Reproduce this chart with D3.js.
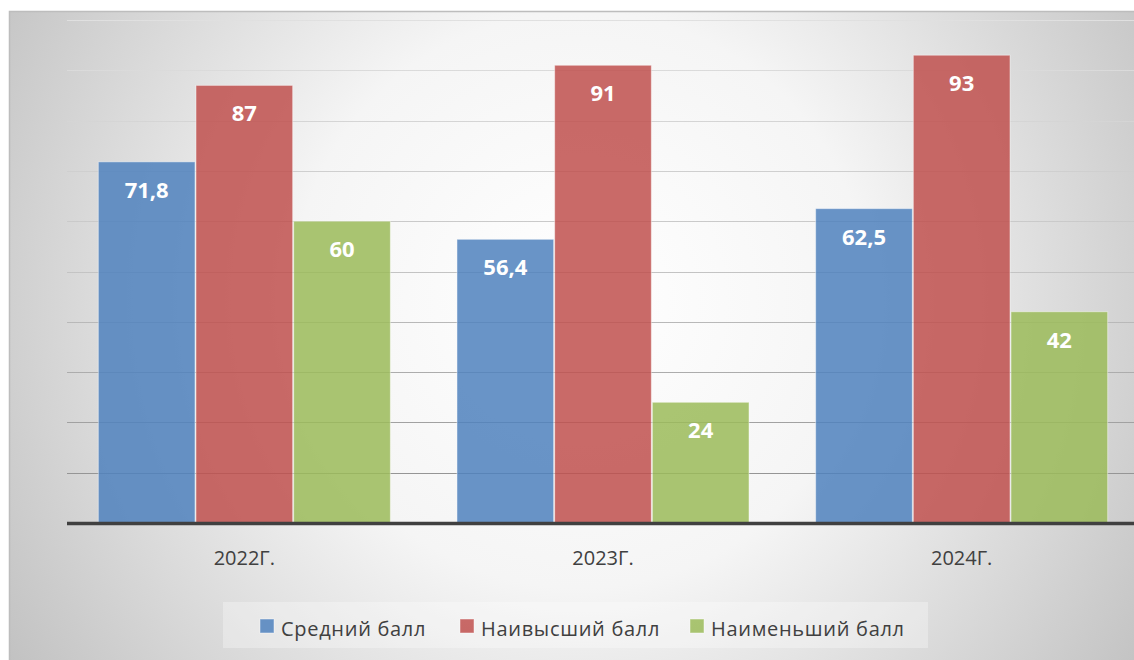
<!DOCTYPE html>
<html>
<head>
<meta charset="utf-8">
<script src="https://cdn.jsdelivr.net/npm/d3@7"></script>
<style>
  html, body { margin: 0; padding: 0; background: #ffffff; }
  svg { display: block; }
</style>
</head>
<body>
<svg id="chart" width="1134" height="660"></svg>
<script>
// ---- data ----
const categories = ["2022Г.", "2023Г.", "2024Г."];
const seriesNames = ["Средний балл", "Наивысший балл", "Наименьший балл"];
const seriesAvg = [71.8, 56.4, 62.5];
const seriesMax = [87, 91, 93];
const seriesMin = [60, 24, 42];
const yTicks = [0, 10, 20, 30, 40, 50, 60, 70, 80, 90, 100];
const colors = ["#4F81BD", "#C0504D", "#9BBB59"];

const seriesValues = [seriesAvg, seriesMax, seriesMin];
const fmt = v => String(v).replace(".", ",");

const svg = d3.select("#chart");
const defs = svg.append("defs");

// background gradient
const rg = defs.append("radialGradient")
  .attr("id", "bg").attr("gradientUnits", "userSpaceOnUse")
  .attr("cx", 580).attr("cy", 300).attr("r", 720);
rg.append("stop").attr("offset", 0).attr("stop-color", "#ffffff");
rg.append("stop").attr("offset", 0.4).attr("stop-color", "#f5f5f5");
rg.append("stop").attr("offset", 1).attr("stop-color", "#bcbcbc");

const lg = defs.append("linearGradient")
  .attr("id", "grid").attr("gradientUnits", "userSpaceOnUse")
  .attr("x1", 0).attr("y1", 20).attr("x2", 0).attr("y2", 523);
lg.append("stop").attr("offset", 0).attr("stop-color", "#e0e0e0");
lg.append("stop").attr("offset", 0.5).attr("stop-color", "#c4c4c4");
lg.append("stop").attr("offset", 1).attr("stop-color", "#8a8a8a");

svg.append("rect")
  .attr("x", 9.5).attr("y", 11.5).attr("width", 1135).attr("height", 660)
  .attr("fill", "url(#bg)").attr("stroke", "#bdbdbd").attr("stroke-width", 1.5);

// scales
const x = d3.scaleBand().domain(categories).range([65, 1141])
  .paddingInner(0.183).paddingOuter(0.0915);
const xs = d3.scaleBand().domain(seriesNames).range([0, x.bandwidth()]);
const y = d3.scaleLinear().domain([0, 100]).range([523, 20]);

// gridlines
svg.append("g").selectAll("line").data(yTicks.filter(t => t > 0)).join("line")
  .attr("x1", 67).attr("x2", 1143)
  .attr("y1", d => Math.round(y(d)) + 0.5).attr("y2", d => Math.round(y(d)) + 0.5)
  .attr("stroke", "url(#grid)").attr("stroke-width", 1.2);

// bars
const groups = svg.append("g").selectAll("g").data(categories).join("g")
  .attr("transform", d => `translate(${x(d)},0)`);

groups.each(function(cat, ci) {
  const g = d3.select(this);
  seriesNames.forEach((s, si) => {
    const v = seriesValues[si][ci];
    g.append("rect")
      .attr("x", xs(s) + 0.5).attr("y", y(v))
      .attr("width", xs.bandwidth() - 1).attr("height", y(0) - y(v))
      .attr("fill", colors[si]).attr("fill-opacity", 0.85)
      .attr("stroke", "rgba(255,255,255,0.45)").attr("stroke-width", 1);
    g.append("text")
      .attr("x", xs(s) + xs.bandwidth() / 2).attr("y", y(v) + 36)
      .attr("text-anchor", "middle")
      .attr("font-family", "'Open Sans', sans-serif").attr("font-weight", 700)
      .attr("font-size", 22).attr("fill", "#ffffff")
      .text(fmt(v));
  });
});

// baseline
svg.append("line").attr("x1", 67).attr("x2", 1143)
  .attr("y1", y(0) + 0.5).attr("y2", y(0) + 0.5)
  .attr("stroke", "#404040").attr("stroke-width", 3.5);

// category axis labels
const xAxis = d3.axisBottom(x).tickSize(0).tickPadding(0);
const ax = svg.append("g").attr("transform", `translate(0,${y(0)})`).call(xAxis);
ax.select(".domain").remove();
ax.selectAll("text")
  .attr("dy", 0).attr("y", 42)
  .attr("font-family", "'Open Sans', sans-serif").attr("font-size", 20)
  .attr("fill", "#404040");

// legend
svg.append("rect").attr("x", 223).attr("y", 602).attr("width", 705).attr("height", 46)
  .attr("fill", "#ffffff").attr("fill-opacity", 0.3);
const legX = [260, 460, 690];
const leg = svg.append("g").selectAll("g").data(seriesNames).join("g")
  .attr("transform", (d, i) => `translate(${legX[i]},619)`);
leg.append("rect").attr("width", 14).attr("height", 14)
  .attr("fill", (d, i) => colors[i]).attr("fill-opacity", 0.85)
  .attr("stroke", "rgba(255,255,255,0.45)");
leg.append("text").attr("x", 21).attr("y", 16.5)
  .attr("font-family", "'Open Sans', sans-serif").attr("font-size", 20)
  .attr("letter-spacing", 0.7)
  .attr("fill", "#404040").text(d => d);
</script>
</body>
</html>
